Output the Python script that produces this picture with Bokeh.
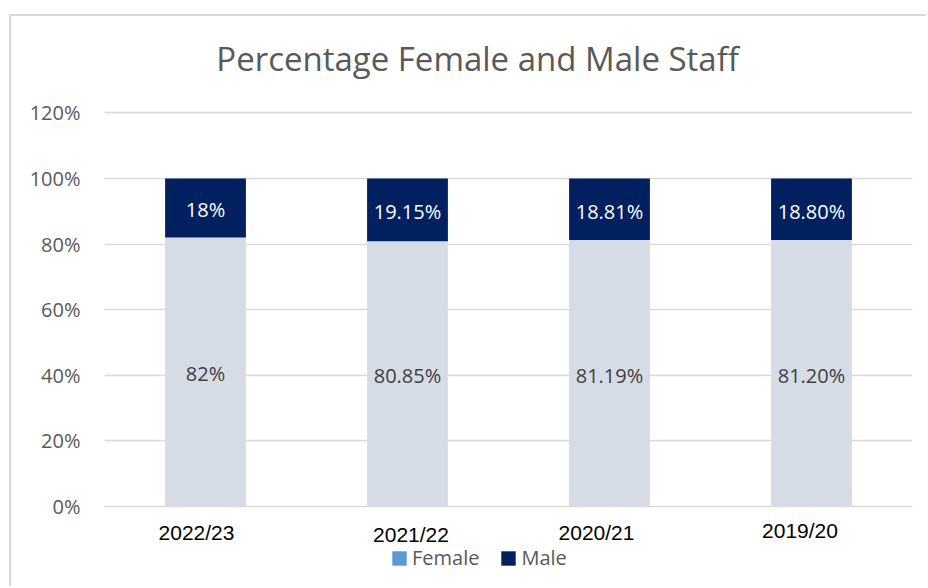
from bokeh.plotting import figure
from bokeh.models import (ColumnDataSource, FactorRange, Range1d, FixedTicker, PrintfTickFormatter,
                          LabelSet, Label, Legend, LegendItem)
from bokeh.core.properties import value
from bokeh.embed import file_html
from bokeh.resources import INLINE

# ---- data ----
years = ["2022/23", "2021/22", "2020/21", "2019/20"]
female = [82.0, 80.85, 81.19, 81.20]
male = [18.0, 19.15, 18.81, 18.80]
female_labels = ["82%", "80.85%", "81.19%", "81.20%"]
male_labels = ["18%", "19.15%", "18.81%", "18.80%"]
y_ticks = [0, 20, 40, 60, 80, 100, 120]
title_text = "Percentage Female and Male Staff"
legend_labels = ["Female", "Male"]

# ---- styles / placement (not data) ----
FEMALE_COLOR = "#D6DCE5"
MALE_COLOR = "#002060"
FEMALE_LEGEND_COLOR = "#5B9BD5"
GRID_COLOR = "#D9D9D9"
TEXT_GRAY = "#595959"
FONT = "Open Sans"
cat_dx = [-9, 3.5, -13, -11.5]
cat_dy = [-26.5, -28, -26.5, -24.5]

src = ColumnDataSource(data=dict(
    years=years,
    female=female,
    male=male,
    female_mid=[f / 2 for f in female],
    male_mid=[f + m / 2 for f, m in zip(female, male)],
    female_labels=female_labels,
    male_labels=male_labels,
    zero=[0] * len(years),
    dx=cat_dx,
    dy=cat_dy,
))

p = figure(width=917, height=572, x_range=FactorRange(*years, range_padding=0),
           y_range=Range1d(-25, 149.34), output_backend="svg", toolbar_location=None,
           min_border_left=93, min_border_right=16, min_border_top=0, min_border_bottom=0,
           margin=(14, 0, 0, 9),
           styles={"border-left": "2px solid #D9D9D9", "border-top": "2px solid #D9D9D9"})
p.outline_line_color = None
p.background_fill_color = "white"
p.border_fill_color = "white"

p.vbar_stack(["female", "male"], x="years", width=0.4, source=src,
             color=[FEMALE_COLOR, MALE_COLOR], line_color=None)

# zero-height renderers that only provide the legend swatches
sw_src = ColumnDataSource(data=dict(x=[years[0]], top=[0]))
rf = p.vbar(x="x", top="top", width=0.4, source=sw_src, fill_color=FEMALE_LEGEND_COLOR, line_color=None)
rm = p.vbar(x="x", top="top", width=0.4, source=sw_src, fill_color=MALE_COLOR, line_color=None)

p.xaxis.visible = False
p.xgrid.visible = False

# y axis
p.yaxis.ticker = FixedTicker(ticks=y_ticks)
p.yaxis.formatter = PrintfTickFormatter(format="%d%%")
p.yaxis.axis_line_color = None
p.yaxis.major_tick_line_color = None
p.yaxis.minor_tick_line_color = None
p.yaxis.major_tick_in = 0
p.yaxis.major_tick_out = 0
p.yaxis.major_label_standoff = 24
p.yaxis.major_label_text_font = FONT
p.yaxis.major_label_text_font_size = "20px"
p.yaxis.major_label_text_color = TEXT_GRAY
p.ygrid.ticker = FixedTicker(ticks=y_ticks)
p.ygrid.grid_line_color = GRID_COLOR
p.ygrid.grid_line_width = 1.5

# value labels
p.add_layout(LabelSet(x="years", y="female_mid", text="female_labels", source=src,
                      text_font=value(FONT), text_font_size="20px", text_color="#404040",
                      text_align="center", text_baseline="middle", y_offset=-2))
p.add_layout(LabelSet(x="years", y="male_mid", text="male_labels", source=src,
                      text_font=value(FONT), text_font_size="20px", text_color="white",
                      text_align="center", text_baseline="middle", y_offset=-2))

# category labels under the bars
p.add_layout(LabelSet(x="years", y="zero", text="years", source=src,
                      x_offset="dx", y_offset="dy",
                      text_font=value("Liberation Sans"), text_font_size="21px", text_color="black",
                      text_align="center", text_baseline="middle"))

# title
p.add_layout(Label(x=1.847, y=136.5, text=title_text, text_font=FONT,
                   text_font_size="33px", text_color=TEXT_GRAY,
                   text_align="center", text_baseline="middle"))

# legend
legend = Legend(items=[LegendItem(label=legend_labels[0], renderers=[rf]),
                       LegendItem(label=legend_labels[1], renderers=[rm])],
                location=(286, 17), orientation="horizontal",
                glyph_width=18, glyph_height=18, label_standoff=4, spacing=20,
                padding=0, margin=0, border_line_color=None, background_fill_alpha=0,
                label_text_font=FONT, label_text_font_size="20px", label_text_color=TEXT_GRAY)
p.add_layout(legend, "center")

open("out.html", "w").write(file_html(p, INLINE))
